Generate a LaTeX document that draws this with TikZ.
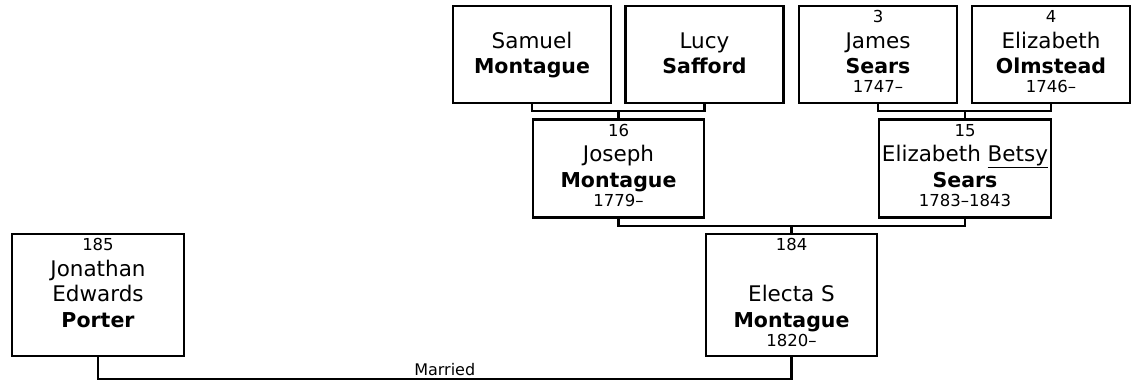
\documentclass[tikz,border=0pt]{standalone}
\usepackage{fontspec}
\setmainfont{DejaVu Sans}
\usetikzlibrary{calc}

\newcommand{\pnum}[1]{{\fontsize{16.5}{19}\selectfont\rule{0pt}{16.5pt}#1\par}}
\newcommand{\pgiven}[1]{{\fontsize{21.5}{25.5}\selectfont\mbox{}#1\par}}
\newcommand{\psur}[1]{{\fontsize{20.5}{25.5}\selectfont\bfseries #1\par}}
\newcommand{\pyear}[1]{{\fontsize{16.5}{19}\selectfont #1\par}}
\newcommand{\pcard}[3]{\parbox[c][#2pt][t]{#1pt}{\centering #3}}

\begin{document}
\begin{tikzpicture}[
    x=1pt, y=1pt,
    person/.style={rectangle,draw=black,line width=2.2pt,fill=white,inner sep=0pt},
    link/.style={draw=black,line width=2.2pt},
    tag/.style={font=\fontsize{16}{18}\selectfont,inner sep=1.5pt}]

  \useasboundingbox (0,0) rectangle (1131,-383);

  % great-grandparents
  \node[person] (samuel) at (532,-54.5)
       {\pcard{158}{97}{\pnum{}\pgiven{Samuel}\psur{Montague}}};
  \node[person] (lucy)   at (704.5,-54.5)
       {\pcard{158}{97}{\pnum{}\pgiven{Lucy}\psur{Safford}}};
  \node[person] (james)  at (878,-54.5)
       {\pcard{158}{97}{\pnum{3}\pgiven{James}\psur{Sears}\pyear{1747–}}};
  \node[person] (olm)    at (1051,-54.5)
       {\pcard{158}{97}{\pnum{4}\pgiven{Elizabeth}\psur{Olmstead}\pyear{1746–}}};

  % grandparents
  \node[person] (joseph) at (618.5,-168.5)
       {\pcard{171}{98}{\pnum{16}\pgiven{Joseph}\psur{Montague}\pyear{1779–}}};
  \node[person] (betsy)  at (965,-168.5)
       {\pcard{172}{98}{\pnum{15}\pgiven{Elizabeth \underline{Betsy}}\psur{Sears}\pyear{1783–1843}}};

  % couple
  \node[person] (porter) at (98,-295)
       {\pcard{172}{122}{\pnum{185}\pgiven{Jonathan}\pgiven{Edwards}\psur{Porter}}};
  \node[person] (electa) at (791.5,-295)
       {\pcard{171}{122}{\pnum{184}\pgiven{}\pgiven{Electa S}\psur{Montague}\pyear{1820–}}};

  \coordinate (sl) at ([yshift=-7pt]samuel.south);
  \coordinate (jo) at ([yshift=-7pt]james.south);
  \coordinate (jb) at ([yshift=-7.5pt]joseph.south);
  \coordinate (pe) at ([yshift=-21.5pt]porter.south);

  \draw[link] (samuel.south) -- (sl) -| (lucy.south);
  \draw[link] (joseph.north) -- (joseph.north |- sl);
  \draw[link] (james.south) -- (jo) -| (olm.south);
  \draw[link] (betsy.north) -- (betsy.north |- jo);
  \draw[link] (joseph.south) -- (jb) -| (betsy.south);
  \draw[link] (electa.north) -- (electa.north |- jb);
  \draw[link] (porter.south) -- (pe) -- node[tag,above] (wed) {Married} (pe -| electa.south)
              -- (electa.south);
\end{tikzpicture}
\end{document}
